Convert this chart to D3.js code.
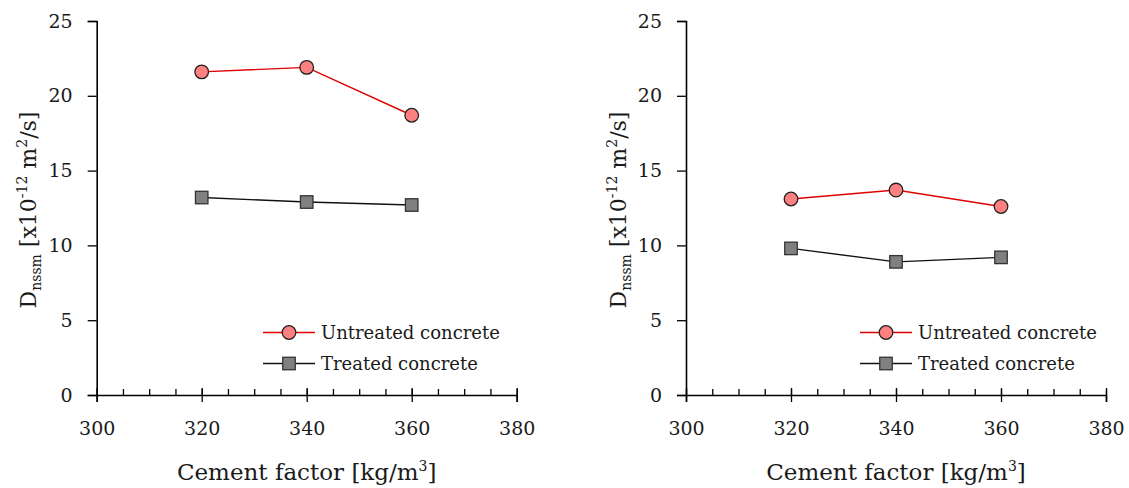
<!DOCTYPE html>
<html>
<head>
<meta charset="utf-8">
<script src="https://cdn.jsdelivr.net/npm/d3@7"></script>
<style>
  html, body { margin: 0; padding: 0; background: #fff; }
  svg { display: block; }
  text { font-family: "DejaVu Serif", "Liberation Serif", serif; fill: #1a1a1a; }
</style>
</head>
<body>
<svg id="chart" width="1129" height="488"></svg>
<script>
// Chloride migration coefficient vs cement factor, two panels
const cementFactor = [320, 340, 360];
const untreatedLeft = [21.6, 21.9, 18.7];
const treatedLeft = [13.2, 12.9, 12.7];
const untreatedRight = [13.1, 13.7, 12.6];
const treatedRight = [9.8, 8.9, 9.2];
const xTicks = [300, 320, 340, 360, 380];
const xMinorTicks = d3.range(300, 381, 5);
const yTicks = [0, 5, 10, 15, 20, 25];
const seriesNames = ["Untreated concrete", "Treated concrete"];

const svg = d3.select("#chart");

const panels = [
  { x0: 96.7, x1: 516.7, untreated: untreatedLeft, treated: treatedLeft, labelX: 27, legX: 263 },
  { x0: 686, x1: 1106, untreated: untreatedRight, treated: treatedRight, labelX: 617, legX: 860 }
];

const yTop = 21, yBottom = 395;

const styles = [
  { line: "#e00000", fill: "#ff8080", stroke: "#222", shape: "circle" },
  { line: "#111", fill: "#808080", stroke: "#333", shape: "square" }
];

function drawMarker(g, shape, cx, cy, st) {
  if (shape === "circle") {
    g.append("circle").attr("cx", cx).attr("cy", cy).attr("r", 6.8)
      .attr("fill", st.fill).attr("stroke", st.stroke).attr("stroke-width", 1.3);
  } else {
    const s = 12.5;
    g.append("rect").attr("x", cx - s / 2).attr("y", cy - s / 2)
      .attr("width", s).attr("height", s)
      .attr("fill", st.fill).attr("stroke", st.stroke).attr("stroke-width", 1.3);
  }
}

panels.forEach(p => {
  const x = d3.scaleLinear().domain([300, 380]).range([p.x0, p.x1]);
  const y = d3.scaleLinear().domain([0, 25]).range([yBottom, yTop]);
  const g = svg.append("g");

  // y axis
  const yAxis = g.append("g").attr("transform", `translate(${p.x0},0)`)
    .call(d3.axisLeft(y).tickValues(yTicks).tickSize(9).tickPadding(15).tickFormat(d3.format("d")));
  yAxis.select(".domain").attr("stroke", "#000").attr("stroke-width", 1.6);
  yAxis.selectAll(".tick line").attr("stroke", "#000").attr("stroke-width", 1.3);
  yAxis.selectAll(".tick text").style("font-size", "19px").attr("fill", "#1a1a1a");

  // minor ticks along x, pointing into the plot
  const xMinor = g.append("g").attr("transform", `translate(0,${yBottom})`)
    .call(d3.axisTop(x).tickValues(xMinorTicks).tickSize(6).tickFormat(""));
  xMinor.select(".domain").remove();
  xMinor.selectAll(".tick line").attr("stroke", "#000").attr("stroke-width", 1.3);

  // major x ticks crossing the axis line
  const xAxis = g.append("g").attr("transform", `translate(0,${yBottom})`)
    .call(d3.axisBottom(x).tickValues(xTicks).tickSize(7).tickPadding(20).tickFormat(d3.format("d")));
  xAxis.select(".domain").attr("stroke", "#000").attr("stroke-width", 1.6);
  xAxis.selectAll(".tick line").attr("stroke", "#000").attr("stroke-width", 1.3).attr("y1", -7);
  xAxis.selectAll(".tick text").style("font-size", "19px").attr("fill", "#1a1a1a");

  // x axis title
  const xt = g.append("text").attr("x", (p.x0 + p.x1) / 2).attr("y", 480)
    .attr("text-anchor", "middle").style("font-size", "23px");
  xt.append("tspan").text("Cement factor [kg/m");
  xt.append("tspan").attr("dy", -9).style("font-size", "14px").text("3");
  xt.append("tspan").attr("dy", 9).text("]");

  // y axis title
  const yt = g.append("text")
    .attr("transform", `translate(${p.labelX + 9},${(yTop + yBottom) / 2 + 2}) rotate(-90)`)
    .attr("text-anchor", "middle").style("font-size", "22px");
  yt.append("tspan").text("D");
  yt.append("tspan").attr("dy", 5).style("font-size", "14px").text("nssm");
  yt.append("tspan").attr("dy", -5).text(" [x10");
  yt.append("tspan").attr("dy", -9).style("font-size", "14px").text("-12");
  yt.append("tspan").attr("dy", 9).text(" m");
  yt.append("tspan").attr("dy", -9).style("font-size", "14px").text("2");
  yt.append("tspan").attr("dy", 9).text("/s]");

  // series
  const series = [p.untreated, p.treated];
  const line = d3.line().x((d, i) => x(cementFactor[i])).y(d => y(d));
  series.forEach((vals, si) => {
    const st = styles[si];
    g.append("path").datum(vals).attr("d", line)
      .attr("fill", "none").attr("stroke", st.line).attr("stroke-width", 1.4);
    vals.forEach((v, i) => drawMarker(g, st.shape, x(cementFactor[i]), y(v), st));
  });

  // legend
  const legRows = [332.5, 363.5];
  seriesNames.forEach((name, si) => {
    const st = styles[si];
    const ly = legRows[si];
    g.append("line").attr("x1", p.legX).attr("x2", p.legX + 52)
      .attr("y1", ly).attr("y2", ly).attr("stroke", st.line).attr("stroke-width", 1.4);
    drawMarker(g, st.shape, p.legX + 26, ly, st);
    g.append("text").attr("x", p.legX + 58).attr("y", ly + 6.5)
      .style("font-size", "18px").text(name);
  });
});
</script>
</body>
</html>
